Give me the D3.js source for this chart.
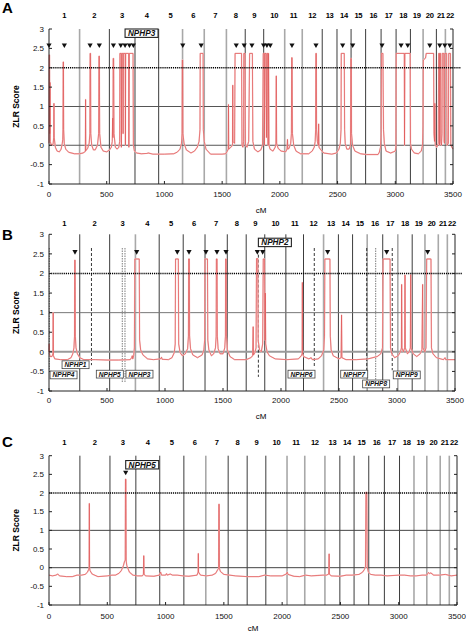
<!DOCTYPE html>
<html><head><meta charset="utf-8">
<script src="https://cdn.jsdelivr.net/npm/d3@7/dist/d3.min.js"></script>
<style>body{margin:0;background:#fff} svg{display:block} text{font-family:Arial,"Liberation Sans",sans-serif}</style>
</head><body><svg id="chart" width="466" height="633"></svg>
<script>
// ---------------- DATA ----------------
const chromosomes = ["1","2","3","4","5","6","7","8","9","10","11","12","13","14","15","16","17","18","19","20","21","22"];
const chromBounds = [0,265,523,745,950,1157,1345,1537,1700,1860,2042,2194,2367,2495,2617,2743,2877,3007,3131,3241,3356,3434,3515];
const xTicks = [0,500,1000,1500,2000,2500,3000,3500];
const yTicks = [-1,-0.5,0,0.5,1,1.5,2,2.5,3];
const yTickLabels = ["-1","-0.5","0","0.5","1","1.5","2","2.5","3"];
const threshold = 2;

const traceA = [[0,0.05],[2,2.33],[5,2.33],[7,0.3],[9,1.62],[11,0.1],[20,0.0],[35,0.02],[41,0.2],[43,1.08],[45,0.2],[55,-0.05],[70,-0.15],[90,-0.17],[105,-0.1],[115,0.05],[119,0.15],[121,0.4],[123,2.15],[125,2.15],[127,0.4],[132,0.05],[145,-0.1],[170,-0.18],[220,-0.22],[265,-0.22],[295,-0.2],[315,-0.16],[317,1.18],[319,-0.14],[335,-0.08],[348,0.05],[354,0.3],[356,2.37],[360,2.37],[362,0.3],[370,0.0],[385,-0.12],[400,-0.12],[420,0.0],[430,0.3],[433,2.3],[436,2.3],[439,0.3],[450,-0.05],[470,-0.15],[500,-0.17],[525,-0.12],[540,-0.05],[548,0.1],[552,0.7],[554,0.2],[556,2.24],[560,2.24],[563,0.3],[575,-0.05],[590,-0.1],[605,-0.05],[612,0.1],[614,2.37],[625,2.37],[627,-0.05],[630,2.37],[640,2.37],[642,0.3],[644,2.37],[660,2.37],[662,0.0],[664,2.37],[690,2.37],[692,-0.05],[696,2.37],[728,2.37],[731,0.0],[740,-0.15],[760,-0.2],[800,-0.22],[850,-0.21],[860,-0.2],[900,-0.23],[1000,-0.23],[1080,-0.22],[1110,-0.18],[1135,-0.1],[1148,0.05],[1153,0.3],[1155,2.2],[1158,2.2],[1160,0.3],[1170,0.05],[1190,-0.12],[1230,-0.2],[1260,-0.15],[1285,-0.05],[1300,0.1],[1308,0.4],[1310,2.37],[1335,2.37],[1337,0.4],[1345,0.1],[1360,-0.1],[1400,-0.23],[1500,-0.23],[1530,-0.22],[1545,-0.15],[1553,-0.1],[1555,1.05],[1557,-0.1],[1575,-0.05],[1590,0.0],[1592,1.55],[1594,0.1],[1608,0.05],[1612,2.37],[1668,2.37],[1672,0.0],[1680,-0.05],[1686,0.1],[1688,2.37],[1698,2.37],[1702,0.0],[1715,-0.05],[1730,0.1],[1738,2.37],[1762,2.37],[1766,0.1],[1780,-0.1],[1810,-0.17],[1835,-0.12],[1850,0.0],[1856,2.37],[1864,2.37],[1866,0.0],[1870,2.37],[1880,2.37],[1884,0.2],[1888,2.37],[1895,2.37],[1898,0.0],[1902,2.37],[1906,0.0],[1915,-0.1],[1940,-0.15],[1960,-0.05],[1966,0.05],[1969,1.79],[1972,0.05],[1985,-0.08],[2010,-0.15],[2050,-0.17],[2062,-0.1],[2066,0.15],[2069,-0.1],[2080,-0.08],[2094,0.05],[2100,0.3],[2103,2.26],[2106,2.26],[2109,0.3],[2120,0.0],[2140,-0.15],[2180,-0.22],[2250,-0.22],[2280,-0.15],[2298,-0.05],[2306,0.1],[2310,0.4],[2312,2.37],[2316,2.37],[2318,0.4],[2325,0.1],[2333,0.0],[2336,0.55],[2339,-0.05],[2350,-0.1],[2380,-0.2],[2450,-0.23],[2490,-0.2],[2512,-0.1],[2524,0.05],[2530,0.4],[2532,2.37],[2558,2.37],[2561,0.4],[2566,0.05],[2580,-0.1],[2600,-0.1],[2612,0.0],[2615,2.24],[2619,2.24],[2621,0.3],[2630,0.0],[2650,-0.15],[2700,-0.22],[2750,-0.24],[2850,-0.24],[2862,-0.18],[2872,-0.05],[2878,0.3],[2880,2.37],[2893,2.37],[2895,1.5],[2898,0.4],[2905,0.05],[2920,-0.15],[2960,-0.2],[3000,-0.15],[3005,-0.05],[3008,2.37],[3078,2.37],[3080,0.0],[3083,2.37],[3129,2.37],[3132,0.05],[3140,-0.1],[3165,-0.2],[3200,-0.22],[3225,-0.15],[3236,0.0],[3240,0.5],[3243,2.2],[3262,2.25],[3268,2.37],[3332,2.37],[3335,0.3],[3340,0.1],[3343,1.08],[3346,0.0],[3360,-0.05],[3372,0.05],[3376,2.37],[3382,2.37],[3384,0.0],[3386,2.37],[3392,2.37],[3395,0.1],[3400,0.0],[3405,0.3],[3407,2.37],[3420,2.37],[3423,0.1],[3426,0.05],[3429,2.37],[3445,2.37],[3448,0.0],[3460,0.05],[3463,2.37],[3478,2.37],[3481,0.0],[3490,-0.05],[3500,-0.1]];
const markersA = [0,133,356,436,558,622,659,697,731,1159,1318,1622,1691,1758,1859,1888,1917,2105,2313,2544,2631,2885,3050,3108,3299,3385,3429,3472];
const genesA = ["NPHP3"];
const genePosA = [659];

const traceB = [[0,0.0],[2,0.2],[4,-0.05],[10,-0.12],[25,-0.12],[34,-0.05],[36,1.0],[38,-0.1],[50,-0.18],[100,-0.2],[160,-0.2],[190,-0.15],[205,-0.05],[215,0.1],[220,0.4],[222,2.34],[225,2.34],[227,0.4],[233,0.1],[245,-0.05],[265,-0.15],[300,-0.2],[400,-0.2],[500,-0.21],[600,-0.21],[700,-0.2],[712,-0.15],[718,-0.1],[722,-0.18],[730,-0.1],[736,0.1],[740,2.37],[778,2.37],[781,0.3],[790,0.05],[810,-0.08],[850,-0.18],[900,-0.2],[960,-0.18],[970,-0.14],[975,-0.19],[1030,-0.2],[1060,-0.15],[1080,-0.02],[1088,0.2],[1091,2.37],[1115,2.37],[1118,0.2],[1130,-0.02],[1150,-0.1],[1175,-0.05],[1195,0.08],[1202,0.4],[1204,2.37],[1210,2.37],[1212,0.4],[1220,0.08],[1240,-0.08],[1280,-0.15],[1320,-0.08],[1335,0.05],[1342,0.3],[1344,2.37],[1366,2.37],[1369,0.3],[1378,0.05],[1400,-0.1],[1420,-0.05],[1435,0.1],[1441,0.4],[1443,2.37],[1449,2.37],[1451,0.4],[1458,0.08],[1475,-0.05],[1500,-0.05],[1515,0.1],[1521,0.4],[1523,2.37],[1528,2.37],[1530,0.4],[1538,0.05],[1560,-0.12],[1600,-0.2],[1700,-0.2],[1740,-0.15],[1755,-0.1],[1760,0.64],[1763,-0.08],[1775,-0.02],[1785,0.1],[1789,2.38],[1800,2.38],[1803,0.3],[1815,0.05],[1830,0.0],[1842,0.2],[1847,2.37],[1858,2.37],[1862,0.3],[1865,1.5],[1868,0.2],[1880,0.0],[1900,-0.1],[1950,-0.18],[2050,-0.2],[2150,-0.18],[2175,-0.1],[2182,-0.05],[2184,1.77],[2186,-0.05],[2195,-0.12],[2240,-0.18],[2260,-0.15],[2270,-0.2],[2320,-0.18],[2350,-0.1],[2368,0.05],[2375,0.4],[2378,2.37],[2422,2.37],[2425,0.4],[2432,0.05],[2450,-0.1],[2500,-0.18],[2518,-0.15],[2522,0.94],[2525,-0.15],[2560,-0.2],[2650,-0.2],[2750,-0.18],[2830,-0.12],[2860,-0.05],[2875,0.1],[2880,2.37],[2940,2.37],[2944,0.1],[2955,-0.05],[2980,-0.15],[3010,-0.1],[3030,0.0],[3038,0.1],[3040,1.72],[3043,0.1],[3055,0.0],[3066,0.1],[3069,1.96],[3072,0.1],[3090,-0.05],[3105,0.0],[3115,0.1],[3118,1.97],[3121,0.1],[3140,-0.05],[3170,-0.12],[3200,-0.05],[3215,0.05],[3221,1.72],[3224,0.1],[3240,0.0],[3250,0.1],[3256,2.37],[3293,2.37],[3297,0.1],[3310,-0.05],[3340,-0.15],[3400,-0.2],[3414,-0.15],[3420,-0.2],[3500,-0.2]];
const markersB = [224,756,1106,1207,1353,1448,1526,1796,1842,2402,2911,3264];
const genesB = ["NPHP4","NPHP1","NPHP5","NPHP3","NPHP2","NPHP6","NPHP7","NPHP8","NPHP9"];
const genePosB = [3,366,632,655,1805,2287,2739,2816,2959];

const traceC = [[0,-0.2],[30,-0.22],[60,-0.2],[75,-0.17],[90,-0.22],[150,-0.24],[200,-0.24],[240,-0.2],[280,-0.2],[310,-0.18],[330,-0.12],[340,-0.05],[344,0.0],[346,1.72],[348,0.0],[352,-0.08],[370,-0.17],[420,-0.24],[500,-0.22],[540,-0.2],[570,-0.2],[600,-0.15],[620,-0.08],[638,0.05],[648,0.17],[654,0.2],[656,2.37],[660,2.37],[662,0.18],[668,0.05],[690,-0.12],[720,-0.2],[760,-0.22],[800,-0.22],[810,-0.18],[813,0.32],[816,-0.18],[830,-0.22],[900,-0.23],[945,-0.2],[958,-0.12],[965,-0.2],[990,-0.2],[1000,-0.2],[1008,-0.16],[1015,-0.2],[1040,-0.17],[1060,-0.2],[1100,-0.2],[1150,-0.22],[1200,-0.23],[1270,-0.2],[1279,-0.12],[1281,0.38],[1283,-0.12],[1300,-0.2],[1350,-0.22],[1400,-0.2],[1430,-0.15],[1448,-0.05],[1455,-0.02],[1457,1.7],[1460,1.7],[1462,-0.02],[1470,-0.1],[1500,-0.18],[1550,-0.2],[1600,-0.22],[1700,-0.24],[1800,-0.24],[1850,-0.2],[1900,-0.22],[2000,-0.22],[2035,-0.17],[2044,-0.12],[2050,-0.18],[2100,-0.23],[2150,-0.24],[2200,-0.2],[2250,-0.22],[2300,-0.21],[2350,-0.2],[2380,-0.2],[2400,-0.17],[2403,0.37],[2405,-0.17],[2420,-0.22],[2500,-0.23],[2550,-0.2],[2600,-0.2],[2660,-0.18],[2690,-0.12],[2705,-0.05],[2715,0.02],[2719,2.02],[2726,2.02],[2730,0.02],[2740,-0.12],[2760,-0.18],[2800,-0.2],[2850,-0.2],[2900,-0.22],[3000,-0.2],[3050,-0.2],[3100,-0.22],[3150,-0.22],[3200,-0.2],[3240,-0.2],[3255,-0.13],[3265,-0.16],[3275,-0.14],[3300,-0.2],[3350,-0.2],[3400,-0.18],[3450,-0.22],[3500,-0.2]];
const markersC = [658];
const genesC = ["NPHP5"];
const genePosC = [658];

// ---------------- LAYOUT / STYLE ----------------
const panels = [
  {letter:"A", left:49, right:453, top:29, bottom:184, chromY:18, tickY:196.5, cmY:213, cmX:261, letterY:13,
   trace:traceA, markers:markersA, markerV:2.57, grayB:[1,5,6,7,10,11,19,21], zeroStyle:{c:"#555",w:1}, oneStyle:{c:"#555",w:1}, dotExt:8},
  {letter:"B", left:49, right:455, top:234.3, bottom:391, chromY:226, tickY:403, cmY:419, cmX:261, letterY:240,
   trace:traceB, markers:markersB, markerV:2.54, grayB:[3,12,15,17,19,20,21], zeroStyle:{c:"#9a9a9a",w:2}, oneStyle:{c:"#777",w:1}, dotExt:7},
  {letter:"C", left:49, right:457, top:455.7, bottom:605, chromY:445, tickY:619, cmY:631, cmX:253, letterY:447,
   trace:traceC, markers:markersC, markerV:2.54, grayB:[6,10,11,12,18,19,20,21], zeroStyle:{c:"#444",w:1}, oneStyle:{c:"#444",w:1}, dotExt:0}
];
const geneLayoutB = [
  {top:2.65, bot:-0.47, gray:true,  boxV:-0.49, anchor:"start", dx:0.7},
  {top:2.65, bot:-0.34, gray:false, boxV:-0.23, anchor:"end",   dx:-2.4},
  {top:2.65, bot:-0.77, gray:true,  boxV:-0.47, anchor:"end",   dx:1},
  {top:2.65, bot:-0.77, gray:true,  boxV:-0.47, anchor:"start", dx:1},
  {top:2.48, bot:-0.64, gray:false, boxV:2.9,   anchor:"start", dx:0, big:true},
  {top:2.65, bot:-0.41, gray:false, boxV:-0.47, anchor:"end",   dx:0.7},
  {top:2.65, bot:-0.67, gray:false, boxV:-0.47, anchor:"end",   dx:1},
  {top:2.65, bot:-0.77, gray:true,  boxV:-0.72, anchor:"middle",dx:0.5},
  {top:2.65, bot:-0.47, gray:false, boxV:-0.49, anchor:"start", dx:1}
];

const svg = d3.select("#chart");

function box(g, x, yTop, label, anchor, big){
  const w = big ? 33 : 27, h = big ? 8.4 : 7.8;
  let x0 = anchor==="start" ? x : anchor==="end" ? x - w : x - w/2;
  g.append("rect").attr("x",x0).attr("y",yTop).attr("width",w).attr("height",h)
    .attr("fill","#fff").attr("stroke", big ? "#222" : "#444").attr("stroke-width", big ? 1.1 : 0.8);
  g.append("text").attr("x",x0+w/2).attr("y",yTop+h/2).attr("dy","0.36em")
    .attr("text-anchor","middle").attr("font-size", big ? 8.2 : 6.6).attr("font-weight","bold")
    .attr("font-style","italic").attr("fill","#111").text(label);
}

panels.forEach((p) => {
  const x = d3.scaleLinear().domain([0,3500]).range([p.left,p.right]);
  const y = d3.scaleLinear().domain([-1,3]).range([p.bottom,p.top]);
  const g = svg.append("g");

  g.append("text").attr("x",2).attr("y",p.letterY).attr("font-size",15).attr("font-weight","bold").text(p.letter);

  chromBounds.slice(1,-1).forEach((b,i) => {
    const gray = p.grayB.includes(i+1);
    g.append("line").attr("x1",x(b)).attr("x2",x(b)).attr("y1",p.top).attr("y2",p.bottom)
      .attr("stroke", gray ? "#a8a8a8" : "#3c3c3c").attr("stroke-width", gray ? 1.6 : 1);
  });
  chromosomes.forEach((c,i) => {
    g.append("text").attr("x",x((chromBounds[i]+chromBounds[i+1])/2)).attr("y",p.chromY)
      .attr("text-anchor","middle").attr("font-size",7.6).attr("font-weight","bold")
      .attr("letter-spacing", c.length>1 ? -0.3 : 0).text(c);
  });

  g.append("line").attr("x1",p.left).attr("x2",p.right).attr("y1",y(0)).attr("y2",y(0))
    .attr("stroke",p.zeroStyle.c).attr("stroke-width",p.zeroStyle.w);
  g.append("line").attr("x1",p.left).attr("x2",p.right).attr("y1",y(1)).attr("y2",y(1))
    .attr("stroke",p.oneStyle.c).attr("stroke-width",p.oneStyle.w);

  if (p.letter==="B") {
    genesB.forEach((gname,i) => {
      const L = geneLayoutB[i];
      g.append("line").attr("x1",x(genePosB[i])).attr("x2",x(genePosB[i]))
        .attr("y1",y(L.top)).attr("y2",y(L.bot))
        .attr("stroke", L.gray ? "#8a8a8a" : "#222").attr("stroke-width", L.gray ? 1.1 : 0.9)
        .attr("stroke-dasharray", L.gray ? "1.5,1" : "3,2");
    });
  }

  const line = d3.line().x(d=>x(d[0])).y(d=>y(d[1]));
  g.append("path").datum(p.trace).attr("d",line).attr("fill","none")
    .attr("stroke","#f6c6c6").attr("stroke-width",1.4).attr("stroke-linejoin","round");
  g.append("path").datum(p.trace).attr("d",line).attr("fill","none")
    .attr("stroke","#e05555").attr("stroke-width",0.7).attr("stroke-linejoin","round");

  g.append("line").attr("x1",p.left).attr("x2",p.right + p.dotExt).attr("y1",y(threshold)).attr("y2",y(threshold))
    .attr("stroke","#000").attr("stroke-width",1.4).attr("stroke-dasharray","1.2,0.9");

  g.append("line").attr("x1",p.left).attr("x2",p.left).attr("y1",p.top).attr("y2",p.bottom).attr("stroke","#222");
  g.append("line").attr("x1",p.right).attr("x2",p.right).attr("y1",p.top).attr("y2",p.bottom).attr("stroke","#222");
  g.append("line").attr("x1",p.left).attr("x2",p.right).attr("y1",p.bottom).attr("y2",p.bottom).attr("stroke","#222");
  yTicks.forEach((t,i) => {
    g.append("line").attr("x1",p.left).attr("x2",p.left+3).attr("y1",y(t)).attr("y2",y(t)).attr("stroke","#222");
    g.append("line").attr("x1",p.right).attr("x2",p.right-3).attr("y1",y(t)).attr("y2",y(t)).attr("stroke","#222");
    g.append("text").attr("x",p.left-5).attr("y",y(t)).attr("dy","0.35em").attr("text-anchor","end")
      .attr("font-size",8).attr("fill","#111").text(yTickLabels[i]);
  });
  xTicks.forEach(t => {
    g.append("line").attr("x1",x(t)).attr("x2",x(t)).attr("y1",p.bottom).attr("y2",p.bottom-3).attr("stroke","#222");
    g.append("text").attr("x",x(t)).attr("y",p.tickY).attr("text-anchor","middle")
      .attr("font-size",8).attr("fill","#111").text(t);
  });
  g.append("text").attr("x",p.cmX).attr("y",p.cmY).attr("text-anchor","middle").attr("font-size",8).text("cM");
  g.append("text").attr("transform",`translate(19,${(p.top+p.bottom)/2}) rotate(-90)`)
    .attr("text-anchor","middle").attr("font-size",8.5).attr("font-weight","bold").text("ZLR Score");

  p.markers.forEach(m => {
    const cx = x(m), cy = y(p.markerV);
    g.append("path").attr("d",`M${cx-2.6},${cy-2.2}L${cx+2.6},${cy-2.2}L${cx},${cy+2.4}Z`).attr("fill","#111");
  });

  if (p.letter==="A") box(g, x(genePosA[0]), y(3), genesA[0], "start", true);
  if (p.letter==="C") box(g, x(genePosC[0]), y(2.87), genesC[0], "start", true);
  if (p.letter==="B") {
    genesB.forEach((gname,i) => {
      const L = geneLayoutB[i];
      box(g, x(genePosB[i]) + L.dx, y(L.boxV), gname, L.anchor, L.big);
    });
  }
});
</script></body></html>
